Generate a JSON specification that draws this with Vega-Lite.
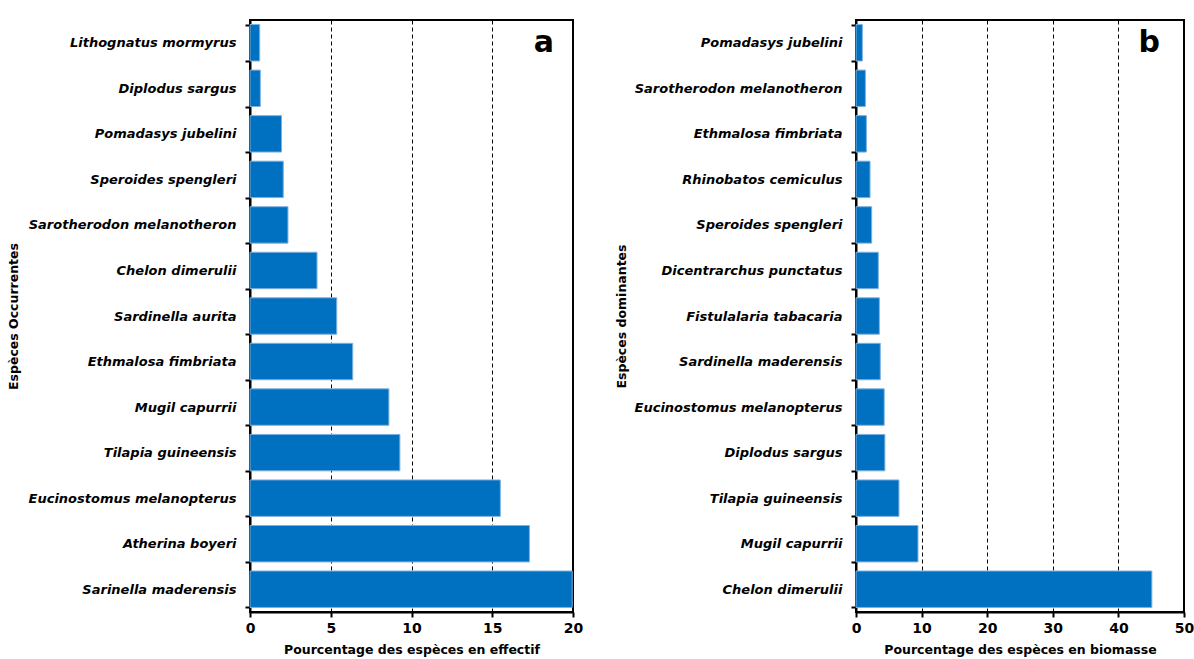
{
  "$schema": "https://vega.github.io/schema/vega-lite/v6.json",
  "padding": {"left": 6, "top": 13, "right": 5, "bottom": 2},
  "background": "white",
  "spacing": 30,
  "config": {
    "view": {"stroke": "black", "strokeWidth": 2},
    "font": "DejaVu Sans",
    "axis": {
      "domainColor": "black", "domainWidth": 2,
      "tickColor": "black", "tickWidth": 2, "tickSize": 5,
      "labelColor": "black", "labelFont": "DejaVu Sans", "labelFontWeight": "bold", "labelLimit": 0,
      "titleColor": "black", "titleFont": "DejaVu Sans", "titleFontWeight": "bold", "titleFontSize": 12.5
    }
  },
  "datasets": {
    "effectif": [
      {"species": "Lithognatus mormyrus", "value": 0.6},
      {"species": "Diplodus sargus", "value": 0.64},
      {"species": "Pomadasys jubelini", "value": 1.95},
      {"species": "Speroides spengleri", "value": 2.06},
      {"species": "Sarotherodon melanotheron", "value": 2.35},
      {"species": "Chelon dimerulii", "value": 4.15},
      {"species": "Sardinella aurita", "value": 5.37},
      {"species": "Ethmalosa fimbriata", "value": 6.36},
      {"species": "Mugil capurrii", "value": 8.6},
      {"species": "Tilapia guineensis", "value": 9.28},
      {"species": "Eucinostomus melanopterus", "value": 15.5},
      {"species": "Atherina boyeri", "value": 17.3},
      {"species": "Sarinella maderensis", "value": 19.95}
    ],
    "biomasse": [
      {"species": "Pomadasys jubelini", "value": 0.97},
      {"species": "Sarotherodon melanotheron", "value": 1.43},
      {"species": "Ethmalosa fimbriata", "value": 1.58},
      {"species": "Rhinobatos cemiculus", "value": 2.14},
      {"species": "Speroides spengleri", "value": 2.39},
      {"species": "Dicentrarchus punctatus", "value": 3.4},
      {"species": "Fistulalaria tabacaria", "value": 3.56},
      {"species": "Sardinella maderensis", "value": 3.7},
      {"species": "Eucinostomus melanopterus", "value": 4.3},
      {"species": "Diplodus sargus", "value": 4.4},
      {"species": "Tilapia guineensis", "value": 6.55},
      {"species": "Mugil capurrii", "value": 9.45},
      {"species": "Chelon dimerulii", "value": 45.1}
    ]
  },
  "hconcat": [
    {
      "width": 323,
      "height": 592,
      "layer": [
        {
          "data": {"name": "effectif"},
          "mark": {"type": "bar", "color": "#0070C0", "stroke": "#7FB0DD", "strokeWidth": 1},
          "encoding": {
            "x": {
              "field": "value", "type": "quantitative",
              "scale": {"domain": [0, 20], "nice": false},
              "axis": {
                "values": [0, 5, 10, 15, 20], "title": "Pourcentage des espèces en effectif",
                "grid": true, "gridColor": "black", "gridDash": [4, 3], "gridWidth": 1,
                "labelFontSize": 14, "labelPadding": 4, "labelFlush": false, "titlePadding": 8
              }
            },
            "y": {
              "field": "species", "type": "nominal", "sort": null,
              "scale": {"paddingInner": 0.2, "paddingOuter": 0.1},
              "axis": {
                "title": "Espèces Occurrentes", "tickBand": "extent",
                "labelFontSize": 13, "labelFontStyle": "italic", "labelPadding": 9,
                "titleX": -230, "titleY": 296, "titleAngle": -90
              }
            }
          }
        },
        {
          "data": {"values": [{"panel": "a"}]},
          "mark": {"type": "text", "fontSize": 30, "fontWeight": "bold", "font": "DejaVu Sans", "color": "black", "baseline": "middle", "align": "center"},
          "encoding": {
            "x": {"datum": 18.2, "type": "quantitative"},
            "y": {"datum": "Lithognatus mormyrus", "type": "nominal"},
            "text": {"field": "panel", "type": "nominal"}
          }
        }
      ]
    },
    {
      "width": 328,
      "height": 592,
      "layer": [
        {
          "data": {"name": "biomasse"},
          "mark": {"type": "bar", "color": "#0070C0", "stroke": "#7FB0DD", "strokeWidth": 1},
          "encoding": {
            "x": {
              "field": "value", "type": "quantitative",
              "scale": {"domain": [0, 50], "nice": false},
              "axis": {
                "values": [0, 10, 20, 30, 40, 50], "title": "Pourcentage des espèces en biomasse",
                "grid": true, "gridColor": "black", "gridDash": [4, 3], "gridWidth": 1,
                "labelFontSize": 14, "labelPadding": 4, "labelFlush": false, "titlePadding": 8
              }
            },
            "y": {
              "field": "species", "type": "nominal", "sort": null,
              "scale": {"paddingInner": 0.2, "paddingOuter": 0.1},
              "axis": {
                "title": "Espèces dominantes", "tickBand": "extent",
                "labelFontSize": 13, "labelFontStyle": "italic", "labelPadding": 9,
                "titleX": -228, "titleY": 296, "titleAngle": -90
              }
            }
          }
        },
        {
          "data": {"values": [{"panel": "b"}]},
          "mark": {"type": "text", "fontSize": 30, "fontWeight": "bold", "font": "DejaVu Sans", "color": "black", "baseline": "middle", "align": "center"},
          "encoding": {
            "x": {"datum": 44.7, "type": "quantitative"},
            "y": {"datum": "Pomadasys jubelini", "type": "nominal"},
            "text": {"field": "panel", "type": "nominal"}
          }
        }
      ]
    }
  ]
}
